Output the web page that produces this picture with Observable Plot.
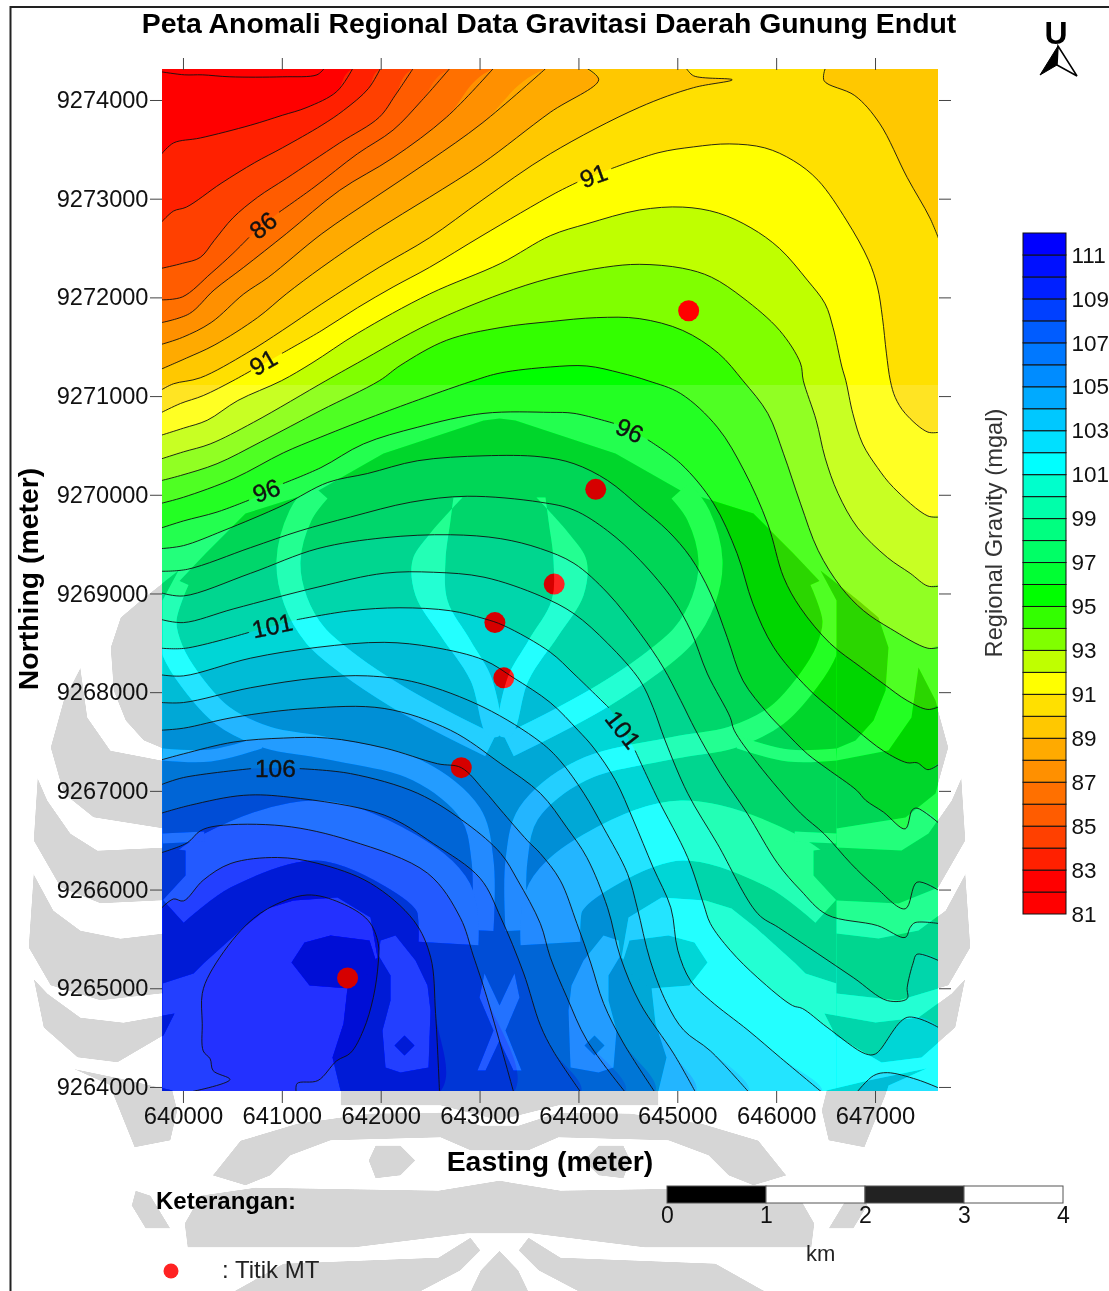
<!DOCTYPE html>
<html><head><meta charset="utf-8">
<script src="https://cdn.jsdelivr.net/npm/d3@7"></script>
<script src="https://cdn.jsdelivr.net/npm/@observablehq/plot@0.6"></script>
<style>
html,body{margin:0;padding:0;background:#fff}
#page{position:relative;width:1109px;height:1291px;overflow:hidden;background:#fff;font-family:"Liberation Sans",Arial,sans-serif;color:#000}
#page svg{position:absolute;left:0;top:0}
.t{position:absolute;white-space:nowrap;line-height:1}
</style></head><body><div id="page"></div>
<script>
// Reference point of the traced map coordinates (metres); traced values are km from it
const originE = 640000, originN = 9264000;
const domainE = [639788, 647637], domainN = [9263959, 9274314];
const tickE = [640000,641000,642000,643000,644000,645000,646000,647000];
const tickN = [9264000,9265000,9266000,9267000,9268000,9269000,9270000,9271000,9272000,9273000,9274000];

// Legend classes (mgal) and their colours
const bandLow = d3.range(81,112);
const bandColors = ["#ff0000","#ff0000","#ff2000","#ff4000","#ff5c00","#ff7000","#ff9000","#ffaa00","#ffc800","#ffe000","#ffff00","#bfff00","#80ff00","#33ff00","#00ff00","#00ff33","#00ff66","#00ff80","#00ffaa","#00ffcc","#00ffff","#00e0ff","#00c8ff","#00aaff","#008cff","#0078ff","#005cff","#0040ff","#0020ff","#0010ff","#0000ff"];
const legendTicks = [81,83,85,87,89,91,93,95,97,99,101,103,105,107,109,111];

// Isogals: [km east of origin, km north of origin]; null = gap for a label
const L82=[[-.22,10.29],[.01,10.26],[.19,10.26],[.47,10.24],[1,10.24],[1.35,10.26],[1.42,10.32]];
const L83=[[-.22,9.46],[-.1,9.57],[.17,9.62],[.68,9.75],[1,9.85],[1.25,9.93],[1.55,10.09],[1.71,10.32]];
const L84=[[-.22,8.77],[-.1,8.88],[.03,8.92],[.38,9.16],[.72,9.37],[1,9.52],[1.4,9.75],[1.62,9.9],[1.87,10.12],[1.99,10.32]];
const L85=[[-.22,8.3],[-.01,8.35],[.17,8.41],[.31,8.58],[.5,8.81],[.75,9.02],[1.04,9.21],[1.58,9.57],[1.98,9.83],[2.14,10.05],[2.32,10.32]];
const L86=[[-.22,7.98],[-.01,8.01],[.28,8.25],[.5,8.45],[.66,8.61],null,[.97,8.87],[1.32,9.12],[1.76,9.46],[2.12,9.7],[2.41,10],[2.69,10.32]];
const L87=[[-.22,7.75],[.06,7.84],[.31,8.08],[.61,8.31],[1.04,8.65],[1.58,9.09],[2.12,9.42],[2.66,9.83],[3.13,10.32]];
const L88=[[-.22,7.53],[-.01,7.6],[.28,7.75],[.61,8.04],[.86,8.21],[1.4,8.65],[1.94,9.02],[2.49,9.39],[3.02,9.77],[3.66,10.32]];
const L89=[[-.22,7.28],[.03,7.39],[.31,7.52],[.75,7.8],[1.04,8.04],[1.4,8.31],[1.94,8.68],[2.49,9.02],[3.02,9.36],[3.71,9.88],[4.2,10.21],[4.09,10.32]];
const L90=[[-.22,7.07],[-.1,7.13],[.17,7.19],[.64,7.44],[1,7.67],[1.4,7.94],[1.98,8.31],[2.49,8.61],[3.02,8.99],[3.71,9.46],[4.61,9.93],[5.16,10.13],[5.55,10.21],[5.16,10.25],[5.09,10.32]];
const L90b=[[6.49,10.32],[6.48,10.2],[6.79,10.05],[7.04,9.77],[7.32,9.22],[7.55,8.81],[7.65,8.57]];
const L91=[[-.22,6.84],[-.03,6.93],[.2,7.01],[.5,7.16],[.68,7.26],null,[1,7.44],[1.4,7.67],[1.76,7.9],[2.12,8.11],[2.49,8.31],[3.02,8.63],[3.76,9.06],[3.98,9.17],null,[4.33,9.31],[4.8,9.47],[5.16,9.53],[5.52,9.56],[5.88,9.52],[6.17,9.39],[6.42,9.19],[6.71,8.78],[6.93,8.38],[7.02,8.11],[7.07,7.8],[7.11,7.44],[7.15,7.16],[7.2,6.99],[7.3,6.83],[7.53,6.64],[7.65,6.64]];
const L92=[[-.22,6.61],[0,6.68],[.24,6.76],[.55,6.96],[.99,7.16],[1.3,7.34],[1.76,7.64],[2.49,8.04],[3.21,8.35],[3.71,8.63],[4.08,8.75],[4.61,8.89],[5.05,8.92],[5.41,8.86],[5.74,8.71],[6.03,8.5],[6.31,8.18],[6.49,7.94],[6.57,7.7],[6.66,7.3],[6.7,7.16],[6.77,6.83],[6.87,6.52],[7.02,6.28],[7.18,6.08],[7.53,5.79],[7.65,5.78]];
const L93=[[-.22,6.37],[0,6.44],[.27,6.52],[.71,6.74],[1.44,7.16],[1.76,7.34],[2.49,7.74],[3.21,8.04],[3.71,8.2],[4.26,8.31],[4.61,8.34],[5.05,8.3],[5.34,8.21],[5.66,8],[6.03,7.67],[6.24,7.34],[6.27,7.16],[6.4,6.76],[6.49,6.38],[6.62,6.02],[6.82,5.67],[7.12,5.37],[7.35,5.21],[7.53,5.08],[7.65,5.08]];
const L94=[[-.22,6.15],[-.03,6.2],[.34,6.32],[.78,6.54],[1.39,6.86],[1.98,7.16],[2.2,7.32],[2.66,7.57],[3.21,7.7],[3.71,7.76],[4.18,7.8],[4.61,7.79],[5.05,7.67],[5.41,7.44],[5.66,7.16],[5.91,6.83],[6.07,6.42],[6.24,5.92],[6.42,5.44],[6.65,5.07],[6.88,4.83],[7.15,4.65],[7.53,4.45],[7.65,4.46]];
const L95=[[-.22,5.92],[0,5.98],[.51,6.17],[1.01,6.43],[1.39,6.59],[2.03,6.84],[2.93,7.16],[3.21,7.24],[3.71,7.3],[4.08,7.31],[4.42,7.24],[4.7,7.16],[5.03,7.03],[5.4,6.69],[5.67,6.25],[5.91,5.71],[6.07,5.17],[6.24,4.86],[6.54,4.5],[6.85,4.26],[7.08,4.09],[7.32,3.92],[7.53,3.83],[7.65,3.86]];
const L96=[[-.22,5.67],[0,5.74],[.34,5.83],[.66,5.95],null,[1.01,6.12],[1.39,6.28],[1.82,6.52],[2.37,6.69],[3.04,6.83],[3.71,6.84],[3.95,6.83],[4.35,6.73],null,[4.7,6.56],[5.03,6.32],[5.36,5.92],[5.6,5.41],[5.76,4.9],[5.97,4.46],[6.31,4.05],[6.57,3.82],[6.81,3.62],[7.08,3.41],[7.32,3.29],[7.42,3.29],[7.53,3.22],[7.65,3.28]];
const L97=[[-.22,5.46],[0,5.49],[.4,5.64],[1.01,5.9],[1.46,6.13],[1.86,6.22],[2.37,6.35],[3.04,6.4],[3.61,6.39],[3.95,6.32],[4.29,6.15],[4.62,5.88],[4.9,5.64],[5.13,5.37],[5.33,5.01],[5.5,4.56],[5.66,4.12],[5.91,3.79],[6.07,3.62],[6.31,3.38],[6.51,3.23],[6.81,3.01],[6.9,2.91],[7.08,2.79],[7.3,2.62],[7.37,2.81],[7.42,2.83],[7.65,2.67]];
const L98=[[-.22,5.23],[.04,5.25],[.68,5.47],[1.18,5.64],[1.69,5.78],[2.3,5.93],[2.87,5.99],[3.61,5.93],[3.95,5.85],[4.29,5.64],[4.62,5.34],[4.96,4.93],[5.13,4.63],[5.3,4.19],[5.53,3.75],[5.57,3.62],[5.81,3.28],[6.24,2.78],[6.48,2.57],[6.75,2.27],[6.98,2.05],[7.3,1.81],[7.42,2.08],[7.65,1.99]];
const L99=[[-.22,5.01],[0,4.98],[.68,5.21],[1.36,5.46],[2.03,5.57],[2.7,5.6],[3.21,5.56],[3.61,5.46],[3.95,5.31],[4.29,5.01],[4.62,4.6],[4.85,4.26],[5.03,3.92],[5.18,3.62],[5.43,3.18],[5.7,2.78],[6.01,2.27],[6.24,2],[6.51,1.75],[7.02,1.64],[7.3,1.52],[7.35,1.62],[7.4,1.67],[7.65,1.66]];
const L100=[[-.22,4.74],[0,4.71],[.51,4.85],[1.36,5.07],[2.03,5.21],[2.53,5.22],[3.04,5.17],[3.61,4.98],[3.95,4.8],[4.29,4.5],[4.62,4.12],[4.75,3.85],[4.87,3.52],[5.1,2.98],[5.4,2.47],[5.81,1.76],[6.02,1.62],[6.41,1.36],[6.78,1.11],[7.12,.88],[7.32,.9],[7.32,1.01],[7.38,1.26],[7.42,1.35],[7.65,1.28]];
const L101=[[-.22,4.45],[.02,4.45],[.66,4.61],null,[1.15,4.74],[1.69,4.83],[2.19,4.86],[2.7,4.83],[3.04,4.75],[3.24,4.68],[3.71,4.41],[3.95,4.19],[4.3,3.85],null,[4.57,3.41],[4.79,2.94],[5.1,2.33],[5.26,1.86],[5.33,1.66],[5.53,1.39],[5.81,1.11],[6.16,.83],[6.26,.8],[6.51,.61],[6.9,.34],[7,.34],[7.32,.71],[7.65,.6]];
const L102=[[-.22,4.18],[0,4.17],[.68,4.35],[1.36,4.46],[2.03,4.51],[2.53,4.46],[3.04,4.33],[3.34,4.15],[3.71,3.9],[3.99,3.62],[4.15,3.44],[4.37,3.11],[4.55,2.71],[4.75,2.23],[4.93,1.82],[5,1.39],[5.13,1.08],[5.33,.88],[5.71,.58],[6.04,.3],[6.46,-.05]];
const L102b=[[6.81,-.05],[6.98,.12],[7.12,.15],[7.42,.08],[7.65,-.01]];
const L103=[[-.22,3.9],[0,3.9],[.68,4.05],[1.36,4.15],[1.86,4.17],[2.37,4.1],[3.04,3.85],[3.61,3.5],[3.81,3.31],[4.05,2.98],[4.25,2.63],[4.49,2.17],[4.59,1.82],[4.72,1.29],[4.89,.85],[5.06,.58],[5.33,.37],[5.72,-.05]];
const L104=[[-.22,3.62],[0,3.64],[.51,3.75],[1.25,3.84],[2.03,3.84],[2.7,3.62],[3.21,3.28],[3.61,2.98],[3.88,2.63],[4.08,2.33],[4.29,1.82],[4.42,1.32],[4.62,.85],[4.96,.34],[5.18,-.05]];
const L105=[[-.22,3.32],[0,3.38],[.51,3.5],[1.01,3.54],[1.46,3.54],[2.03,3.44],[2.57,3.28],[2.81,3.24],[3.04,3.01],[3.21,2.81],[3.48,2.5],[3.61,2.37],[3.81,2.1],[3.98,1.66],[4.12,1.26],[4.25,.85],[4.45,.45],[4.77,-.05]];
const L106=[[-.22,3.07],[0,3.14],[.68,3.23],null,[1.18,3.23],[1.69,3.18],[2.37,2.98],[2.87,2.67],[3.21,2.37],[3.38,2.1],[3.61,1.66],[3.71,1.32],[3.88,.91],[4.08,.48],[4.47,-.05]];
const L107=[[-.22,2.78],[.07,2.86],[.61,2.96],[1.08,2.94],[2.03,2.76],[2.53,2.47],[3,2.12],[3.21,1.72],[3.44,1.16],[3.61,.63],[3.74,.37],[4.02,-.05]];
const L108=[[-.22,2.38],[.04,2.48],[.17,2.6],[.34,2.65],[1.01,2.65],[1.69,2.5],[2.47,2.17],[2.8,1.72],[2.93,1.34],[3.07,.91],[3.34,-.05]];
const L109=[[-.22,1.82],[-.1,1.91],[0,1.89],[.2,2.1],[.48,2.27],[.95,2.33],[1.36,2.27],[1.89,2.07],[2.33,1.69],[2.5,1.32],[2.55,.75],[2.59,-.05]];
const L110=[[.05,-.05],[.47,.08],[.3,.17],[.27,.29],[.2,.37],[.19,.65],[.19,.95],[.27,1.16],[.58,1.59],[.85,1.81],[1.25,1.95],[1.59,1.87],[1.87,1.69],[1.97,1.46],[1.97,1.26],[1.92,.91],[1.82,.58],[1.69,.35],[1.55,.27],[1.36,.07],[1.15,.04],[1.14,-.05]];

// MT stations
const stationKmE=[5.11,4.17,3.75,3.15,3.24,2.81,1.66];
const stationKmN=[7.87,6.06,5.1,4.71,4.15,3.24,1.11];
// Contour labels
const labelText=["86","91","91","96","96","101","101","106"];
const labelKmE=[.81,.81,4.15,.84,4.51,.9,4.44,.93];
const labelKmN=[8.73,7.34,9.23,6.04,6.65,4.67,3.62,3.23];
const labelAngle=[-38,-30,-20,-20,25,-12,52,0];
// Scale bar
const barKm=[0,1,2,3];
const barFill=["#000000","#ffffff","#222222","#ffffff"];
const barTicks=[0,1,2,3,4];

// Watermark outline, in its own units: [distance from its axis, depth below its top]
const wmTop=385;
const wmBody=[[0,418],[16,420],[116,453],[181,490],[254,513],[294,553],[329,590],[337,600],[337,1091],[159,1091],[159,1105],[59,1105],[0,1120]];
const wmGapA=[[321,580],[334,620],[327,650],[309,680],[277,715],[232,737],[176,747],[82,770],[29,813],[17,860],[17,930]];
const wmGapB=[[337,754],[289,755],[239,742]];
const wmGapC=[[181,490],[199,515],[211,560],[204,600],[184,635],[149,665],[104,695],[59,720],[9,745]];
const wmTulip=[[37,497],[71,535],[87,560],[84,595],[59,635],[29,680],[12,735],[0,735],[7,680],[29,640],[52,600],[54,560],[49,520],[46,497]];
const wmGapE=[[336,900],[282,860],[182,830],[99,860],[56,897],[51,943]];
const wmGapF=[[337,838],[295,836]];
const wmHollow=[[337,983],[306,973],[296,963],[256,927],[232,908],[206,900],[162,897],[129,917],[122,957],[152,987],[156,1023],[167,1057],[159,1090],[161,1105],[199,1112],[322,1120],[337,1090]];
const wmRing=[[119,940],[104,935],[84,960],[72,985],[69,1010],[71,1067],[99,1072],[114,1067],[117,1030],[109,1000],[109,975],[121,955]];
const wmCross=[[0,1005],[15,973],[20,997],[6,1030],[22,1070],[14,1070],[0,1040]];
const wmParts=[
 [[359,600],[379,617],[389,647],[386,690],[374,720],[356,740],[337,748],[337,600],[321,570]],
 [[419,667],[436,700],[449,747],[436,793],[406,817],[337,828],[337,760],[389,750],[412,717]],
 [[462,777],[466,840],[439,887],[399,903],[337,900],[314,875],[314,850],[337,847],[402,850],[429,833],[452,800]],
 [[466,873],[471,947],[449,985],[399,1000],[337,993],[337,933],[379,938],[419,930],[446,910]],
 [[466,978],[456,1027],[422,1057],[382,1062],[336,1035],[325,1013],[376,1022],[419,1017],[452,993]],
 [[427,1068],[389,1085],[386,1095],[365,1147],[329,1140],[322,1110],[327,1090],[369,1080]],
 [[131,1160],[124,1145],[99,1145],[84,1160],[99,1175],[124,1178]],
 [[368,1205],[354,1228],[329,1228],[349,1195],[364,1190]],
 [[266,1291],[216,1263],[61,1257],[29,1237],[19,1250],[39,1270],[79,1291]],
 [[208,962],[195,942],[169,935],[130,940],[122,965],[150,988],[190,985]],
 [[105,1045],[95,1035],[85,1045],[95,1055]]
];
const wmAxial=[
 [[0,1150],[29,1150],[59,1137],[169,1140],[209,1155],[229,1175],[254,1185],[287,1175],[259,1140],[202,1123],[131,1113],[59,1112],[19,1125]],
 [[0,1180],[61,1190],[244,1187],[299,1195],[315,1223],[312,1247],[145,1247],[32,1233],[0,1233]],
 [[0,1250],[19,1270],[29,1291],[0,1291]]
];
// hard-light tones: the first lightens what lies under it by 14 %, the second darkens it by 16 %
const wmLight="#919191", wmDark="#6b6b6b";

const page=document.getElementById("page");
const toRow=p=>p?{E:originE+p[0]*1000,N:originN+p[1]*1000}:{E:NaN,N:NaN};
const rows=a=>a.map(toRow);
const TR=[7.8,10.5],BR=[7.8,-.2],BL=[-.4,-.2];
const base81=[[-.4,5],[-.4,10.5],[3,10.5],[3,5]];
const solid=a=>a.filter(Boolean);
const curve="catmull-rom";
const geom={width:1109,height:1291,marginLeft:162,marginRight:171,marginTop:69,marginBottom:200,
  x:{domain:domainE},y:{domain:domainN},style:{background:"transparent",fontFamily:"Liberation Sans, Arial, sans-serif"}};

// polygons of "value >= level"
const regions=[
 [82,[...L82,TR,BR,BL]],[83,[...L83,TR,BR,BL]],[84,[...L84,TR,BR,BL]],[85,[...solid(L85),TR,BR,BL]],
 [86,[...solid(L86),TR,BR,BL]],[87,[...L87,TR,BR,BL]],[88,[...L88,TR,BR,BL]],[89,[...L89,TR,BR,BL]],
 [90,[...L90,...L90b,BR,BL]],
 [91,[...solid(L91),BR,BL]],[92,[...L92,BR,BL]],[93,[...L93,BR,BL]],[94,[...L94,BR,BL]],[95,[...L95,BR,BL]],
 [96,[...solid(L96),BR,BL]],[97,[...L97,BR,BL]],[98,[...L98,BR,BL]],[99,[...L99,BR,BL]],[100,[...L100,BR,BL]],
 [101,[...solid(L101),BR,BL]],[102,[...L102,BL]],[102,[...L102b,BR]],
 [103,[...L103,BL]],[104,[...L104,BL]],[105,[...L105,BL]],[106,[...solid(L106),BL]],[107,[...L107,BL]],
 [108,[...L108,BL]],[109,[...L109,BL]],[110,L110]
];
const stations=stationKmE.map((e,i)=>({E:originE+e*1000,N:originN+stationKmN[i]*1000}));
const labels=labelText.map((t,i)=>({t,a:labelAngle[i],E:originE+labelKmE[i]*1000,N:originN+labelKmN[i]*1000}));
const contourLines=[L82,L83,L84,L85,L86,L87,L88,L89,L90,L90b,L91,L92,L93,L94,L95,L96,L97,L98,L99,L100,L101,L102,L102b,L103,L104,L105,L106,L107,L108,L109,L110];

// layer 1: filled classes and stations
const mapLayer=Plot.plot({...geom,axis:null,marks:[
  Plot.line(rows(base81),{x:"E",y:"N",fill:bandColors[0],stroke:null,clip:true}),
  ...regions.map(([lvl,pts])=>Plot.line(rows(pts),{x:"E",y:"N",fill:bandColors[lvl-81],stroke:null,curve,clip:true})),
  Plot.dot(stations,{x:"E",y:"N",r:10.5,fill:"#ff0000",stroke:null})
]});
page.append(mapLayer);

// layer 2: watermark, blended over everything below it
const mirror=a=>a.map(([d,v])=>[-d,v]);
const whole=a=>[...a,...mirror(a).reverse()];
const wmRows=a=>a.map(([u,v])=>({u,v}));
const wmFill=(a,fill,c)=>[a,mirror(a)].map(b=>Plot.line(wmRows(b),{x:"u",y:"v",fill,stroke:null,curve:c||"linear"}));
const wmWhole=(a,fill)=>Plot.line(wmRows(whole(a)),{x:"u",y:"v",fill,stroke:null});
const wmStroke=(a,w)=>[a,mirror(a)].map(b=>Plot.line(wmRows(b),{x:"u",y:"v",stroke:wmLight,strokeWidth:w,curve,strokeLinecap:"butt"}));
const wmLayer=Plot.plot({width:1109,height:1291,margin:0,axis:null,
  x:{domain:[-499,610],range:[0,1109]},y:{domain:[0,1291],range:[0,1291]},
  style:{background:"transparent"},marks:[
   Plot.rect([wmTop],{x1:-499,x2:610,y1:d=>d,y2:1291,fill:wmLight}),
   wmWhole(wmBody,wmDark),
   ...wmStroke(wmGapA,22),...wmStroke(wmGapB,12),...wmStroke(wmGapC,24),...wmStroke(wmGapE,60),...wmStroke(wmGapF,10),
   ...wmFill(wmTulip,wmLight,curve),
   ...wmFill(wmHollow,wmLight),...wmFill(wmRing,wmLight),wmWhole(wmCross,wmLight),
   ...wmParts.flatMap(p=>wmFill(p,wmDark)),
   ...wmAxial.map(p=>wmWhole(p,wmDark))
]});
wmLayer.style.mixBlendMode="hard-light";
page.append(wmLayer);

// layer 3: isogals, contour labels and axes
const topLayer=Plot.plot({...geom,marks:[
  ...contourLines.map(a=>Plot.line(rows(a),{x:"E",y:"N",stroke:"#111",strokeWidth:.9,curve,clip:true})),
  Plot.text(labels,{x:"E",y:"N",text:"t",rotate:"a",fontSize:24.5,fill:"#111",stroke:"#111",strokeWidth:.4}),
  Plot.axisX(tickE,{anchor:"bottom",tickSize:12,tickPadding:4,tickFormat:d=>String(d),fontSize:23.8,label:null,stroke:"#444",fill:"#111"}),
  Plot.axisX(tickE,{anchor:"top",tickSize:12,tickFormat:()=>"",label:null,stroke:"#444"}),
  Plot.axisY(tickN,{anchor:"left",tickSize:12,tickPadding:2,tickFormat:d=>String(d),fontSize:23.6,label:null,stroke:"#444",fill:"#111"}),
  Plot.axisY(tickN,{anchor:"right",tickSize:12,tickFormat:()=>"",label:null,stroke:"#444"})
]});
page.append(topLayer);

// colour legend
const legend=Plot.plot({width:99,height:710,marginLeft:13,marginRight:43,marginTop:13,marginBottom:16,
  y:{domain:[81,112]},x:{axis:null},style:{background:"transparent",fontFamily:"Liberation Sans, Arial, sans-serif"},marks:[
  Plot.rect(bandLow,{y1:d=>d,y2:d=>d+1,fill:(d,i)=>bandColors[i],stroke:"#111",strokeWidth:1}),
  Plot.axisY(legendTicks,{anchor:"right",tickSize:0,tickPadding:5,tickFormat:d=>String(d),fontSize:22.5,label:null,fill:"#111"})
]});
legend.style.left="1010px";legend.style.top="220px";
page.append(legend);

// scale bar
const bar=Plot.plot({width:430,height:62,marginLeft:17,marginRight:17,marginTop:11,marginBottom:34,
  x:{domain:[0,4]},y:{axis:null},style:{background:"transparent",fontFamily:"Liberation Sans, Arial, sans-serif"},marks:[
  Plot.rect(barKm,{x1:d=>d,x2:d=>d+1,fill:(d,i)=>barFill[i],stroke:"#555",strokeWidth:1}),
  Plot.axisX(barTicks,{anchor:"bottom",tickSize:0,tickPadding:3,tickFormat:d=>String(d),fontSize:23,label:null,fill:"#111"})
]});
bar.style.left="650px";bar.style.top="1175px";
page.append(bar);

// text
function txt(s,css){const d=document.createElement("div");d.className="t";d.textContent=s;d.style.cssText=css;page.append(d);}
txt("Peta Anomali Regional Data Gravitasi Daerah Gunung Endut","left:549px;top:9px;transform:translateX(-50%);font-size:28.4px;font-weight:bold");
txt("U","left:1056px;top:17px;transform:translateX(-50%);font-size:32px;font-weight:bold");
txt("Easting (meter)","left:550px;top:1147px;transform:translateX(-50%);font-size:28.4px;font-weight:bold");
txt("Northing (meter)","left:28px;top:579px;transform:translate(-50%,-50%) rotate(-90deg);font-size:28.4px;font-weight:bold");
txt("Regional Gravity (mgal)","left:995px;top:533px;transform:translate(-50%,-50%) rotate(-90deg);font-size:23.7px;color:#333");
txt("Keterangan:","left:156px;top:1189px;font-size:24px;font-weight:bold");
txt(": Titik MT","left:222px;top:1258px;font-size:24px;color:#222");
txt("km","left:806px;top:1243px;font-size:22px;color:#222");

// frame, north arrow, legend symbol
const deco=document.createElementNS("http://www.w3.org/2000/svg","svg");
deco.setAttribute("width",1109);deco.setAttribute("height",1291);
deco.innerHTML=`<path d="M10.5 1291V7H1109" fill="none" stroke="#222" stroke-width="2"/>
<path d="M1058 46L1040 75L1057 65Z" fill="#000" stroke="#000"/><path d="M1058 46L1077 76L1057 65Z" fill="#fff" stroke="#000" stroke-width="1.5"/>
<circle cx="171" cy="1271" r="7.5" fill="#ff2222"/>`;
page.append(deco);
</script></body></html>
